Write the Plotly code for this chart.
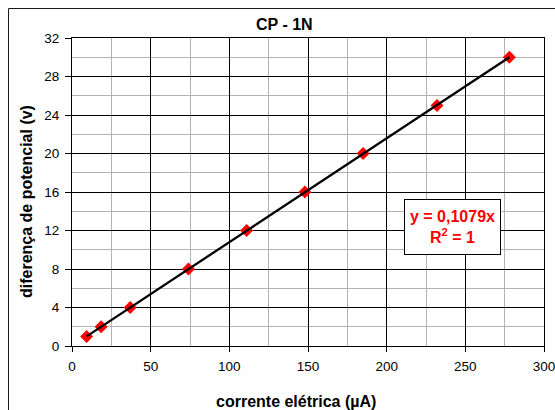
import numpy as np
import plotly.graph_objects as go

# Data
current_uA = [9.3, 18.5, 37.0, 74.0, 111.0, 148.0, 185.0, 232.0, 278.0]
voltage_V = [1, 2, 4, 8, 12, 16, 20, 25, 30]
slope = 0.1079  # trendline y = 0,1079x (through origin)
x_ticks = [0, 50, 100, 150, 200, 250, 300]
y_ticks = [0, 4, 8, 12, 16, 20, 24, 28, 32]

W, H = 555, 410
L, R, T, B = 72, 11, 38, 64
PW, PH = W - L - R, H - T - B

def px(x):
    return (x - L) / PW

def py(y):
    return (H - B - y) / PH

FONT = "Liberation Sans, Arial, sans-serif"

fig = go.Figure()
fig.add_trace(go.Scatter(
    x=current_uA, y=voltage_V, mode="markers",
    marker=dict(symbol="diamond", size=10, color="#ff0000", line=dict(width=0)),
    showlegend=False, hoverinfo="skip"))

tx = np.array([min(current_uA), max(current_uA)])
fig.add_trace(go.Scatter(
    x=tx, y=slope * tx, mode="lines",
    line=dict(color="#000000", width=2.3),
    showlegend=False, hoverinfo="skip"))

fig.update_layout(
    width=W, height=H,
    margin=dict(l=L, r=R, t=T, b=B, autoexpand=False),
    paper_bgcolor="white", plot_bgcolor="white",
    font=dict(family=FONT, color="#000000", size=13.5),
)

fig.update_xaxes(
    range=[0, 300], tickvals=x_ticks, ticktext=[str(v) for v in x_ticks],
    showgrid=True, gridcolor="#000000", gridwidth=1,
    minor=dict(dtick=25, tick0=0, showgrid=True, gridcolor="#b3b3b3", gridwidth=1, ticks=""),
    showline=True, linecolor="#000000", linewidth=1, mirror=True,
    ticks="outside", ticklen=5, tickcolor="#000000", tickwidth=1,
    ticklabeloverflow="allow", automargin=False, ticklabelstandoff=3,
    zeroline=False, tickfont=dict(size=13.5, family=FONT),
)
fig.update_yaxes(
    range=[0, 32], tickvals=y_ticks, ticktext=[str(v) for v in y_ticks],
    showgrid=True, gridcolor="#000000", gridwidth=1,
    minor=dict(dtick=2, tick0=0, showgrid=True, gridcolor="#b3b3b3", gridwidth=1, ticks=""),
    showline=True, linecolor="#000000", linewidth=1, mirror=True,
    ticks="outside", ticklen=6, tickcolor="#000000", tickwidth=1,
    ticklabeloverflow="allow", automargin=False, ticklabelstandoff=3,
    zeroline=False, tickfont=dict(size=13.5, family=FONT),
)

# Chart-area border (extends past the window on right/bottom)
fig.add_shape(type="rect", xref="paper", yref="paper",
              x0=px(8.5), y0=py(470), x1=px(600), y1=py(8.5),
              line=dict(color="#1a1a1a", width=1), fillcolor="rgba(0,0,0,0)", layer="above")

bold = dict(family=FONT, size=16, color="#000000", weight="bold")
fig.add_annotation(text="<b>CP - 1N</b>", xref="paper", yref="paper",
                   x=px(284), y=py(24), xanchor="center", yanchor="middle",
                   showarrow=False, font=bold)
fig.add_annotation(text="<b>corrente elétrica (µA)</b>", xref="paper", yref="paper",
                   x=px(296), y=py(401), xanchor="center", yanchor="middle",
                   showarrow=False, font=bold)
fig.add_annotation(text="<b>diferença de potencial (v)</b>", xref="paper", yref="paper",
                   x=px(26), y=py(202), xanchor="center", yanchor="middle",
                   textangle=-90, showarrow=False, font=bold)

# Trendline equation box
fig.add_annotation(text="<b>y = 0,1079x</b><br><b>R<sup>2</sup> = 1</b>",
                   xref="paper", yref="paper",
                   x=px(452.7), y=py(227), xanchor="center", yanchor="middle",
                   showarrow=False, align="center",
                   width=95, height=54, borderpad=0, borderwidth=1,
                   bordercolor="#000000", bgcolor="#ffffff",
                   font=dict(family=FONT, size=16, color="#ff0000"))

fig.write_html("out.html")
